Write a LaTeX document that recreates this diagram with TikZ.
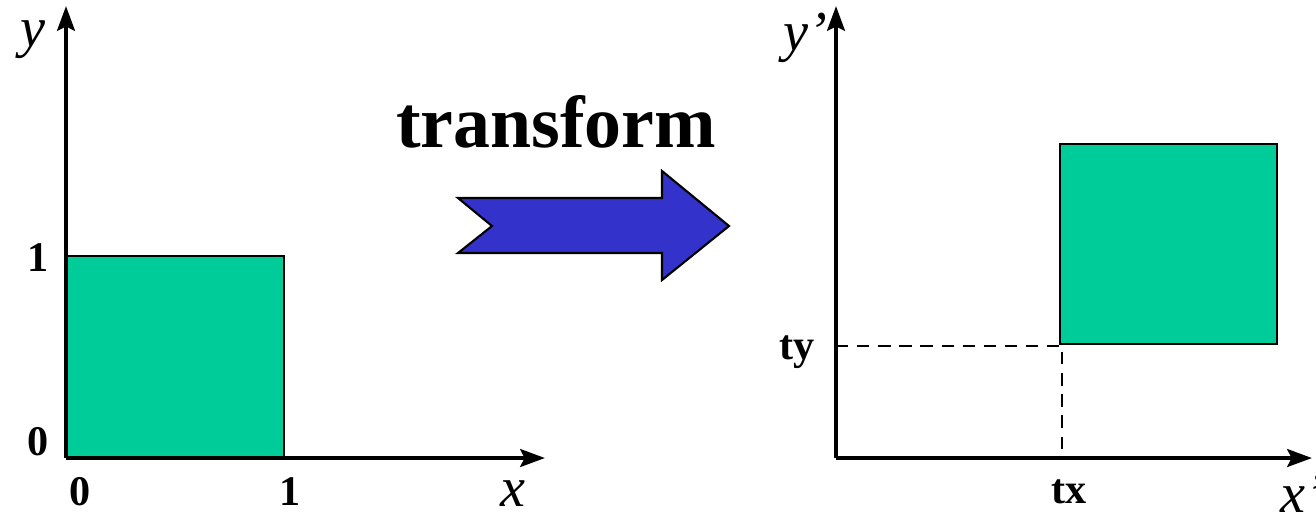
\documentclass[tikz,border=0pt]{standalone}
\usepackage{fontspec}
\setmainfont{Liberation Serif}
\usetikzlibrary{arrows.meta,positioning}
\definecolor{squaregreen}{RGB}{0,204,153}
\definecolor{arrowblue}{RGB}{51,51,204}

\begin{document}
\begin{tikzpicture}[x=0.01cm,y=-0.01cm,>={Stealth[length=7pt,width=5pt,inset=1.2pt]},
    axis/.style={->,line width=1.3pt},
    sq/.style={fill=squaregreen,draw=black,line width=0.5pt},
    numlbl/.style={font=\fontsize{12}{14}\selectfont\bfseries,inner sep=0pt},
    varlbl/.style={font=\fontsize{16}{19}\selectfont\itshape,inner sep=0pt}]
    \useasboundingbox (0,0) rectangle (1316,514);
    % left: unit square
    \coordinate (oA) at (66,458);
    \coordinate (yA) at (66,6);
    \coordinate (xA) at (545,458);
    \fill[sq] (66,256) rectangle (284,457);
    \draw[axis] (oA) -- (yA);
    \draw[axis] (oA) -- (xA);
    \node[varlbl] (ylblA) at (33,40) {y};
    \node[numlbl] (oneY) at (38,258) {1};
    \node[numlbl] (zeroY) at (38,442) {0};
    \node[numlbl] (zeroX) at (80,492) {0};
    \node[numlbl] (oneX) at (290,492) {1};
    \node[varlbl] (xlblA) at (513,494) {x};
    % middle: transform arrow
    \node[font=\fontsize{21}{25}\selectfont\bfseries,inner sep=0pt,anchor=base] (tname) at (556,147) {transform};
    \draw[fill=arrowblue,line width=0.6pt,line join=miter]
      (458,198) -- (662,198) -- (662,171) -- (729,226) -- (662,280)
      -- (662,253) -- (458,253) -- (492,226) -- cycle;
    % right: translated square
    \coordinate (oB) at (836,458);
    \coordinate (yB) at (836,6);
    \coordinate (xB) at (1312,458);
    \coordinate (corner) at (1062,346);
    \coordinate (cornerY) at (836,346);
    \coordinate (cornerX) at (1062,458);
    \fill[sq] (1060,144) rectangle (1277,344);
    \draw[dashed,line width=0.6pt,dash pattern=on 3.5pt off 2.5pt] (cornerY) -- (corner) -- (cornerX);
    \draw[axis] (oB) -- (yB);
    \draw[axis] (oB) -- (xB);
    \node[varlbl] (ylblB) at (805,38) {y’};
    \node[numlbl] (tylbl) at (797,352) {ty};
    \node[numlbl] (txlbl) at (1069,492) {tx};
    \node[varlbl,anchor=west] (xlblB) at (1280,494) {x’};
\end{tikzpicture}
\end{document}
